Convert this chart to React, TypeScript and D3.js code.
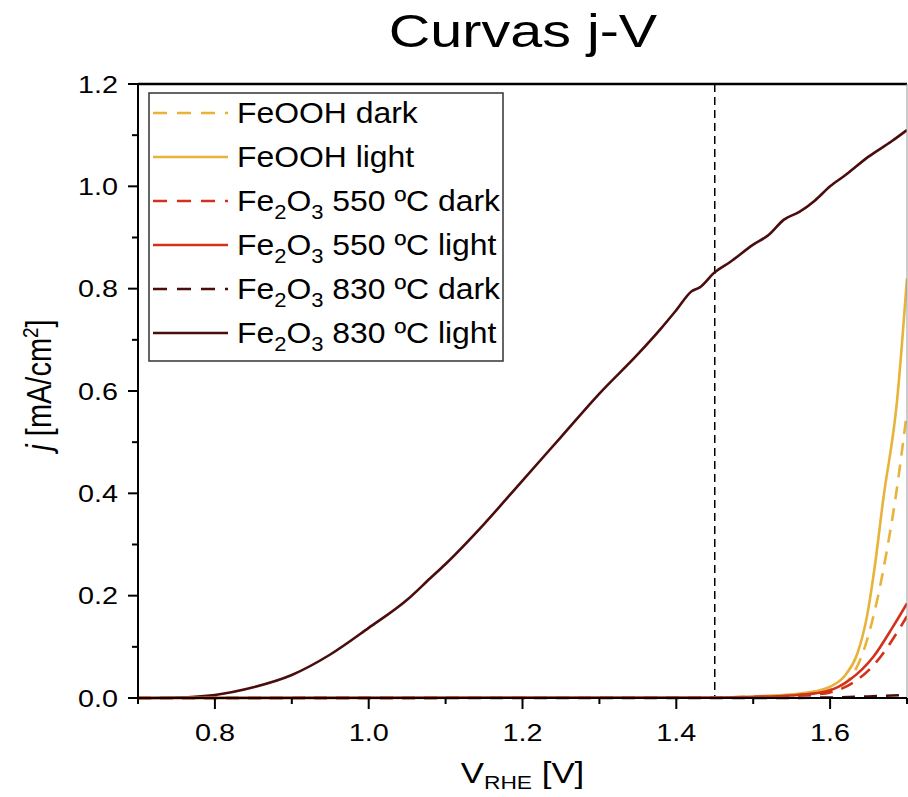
import React from "react";
import * as d3 from "d3";

// ---------- data ----------
const v830Light = [0.70, 0.75, 0.80, 0.85, 0.90, 0.95, 1.00, 1.05, 1.08, 1.10, 1.15, 1.20, 1.25, 1.30, 1.35, 1.38, 1.40, 1.42, 1.43, 1.45, 1.47, 1.50, 1.52, 1.54, 1.56, 1.58, 1.60, 1.62, 1.65, 1.68, 1.70];
const j830Light = [0.000, 0.001, 0.006, 0.021, 0.045, 0.085, 0.137, 0.192, 0.234, 0.262, 0.340, 0.425, 0.510, 0.595, 0.672, 0.722, 0.758, 0.795, 0.802, 0.832, 0.852, 0.886, 0.905, 0.935, 0.950, 0.972, 1.000, 1.022, 1.058, 1.088, 1.110];

const v830Dark = [0.70, 1.50, 1.60, 1.65, 1.70];
const j830Dark = [0.000, 0.000, 0.001, 0.003, 0.006];

const vFeoohLight = [0.70, 1.45, 1.50, 1.55, 1.58, 1.60, 1.62, 1.635, 1.648, 1.658, 1.669, 1.687, 1.70];
const jFeoohLight = [0.000, 0.001, 0.003, 0.007, 0.013, 0.022, 0.045, 0.085, 0.160, 0.256, 0.387, 0.580, 0.820];

const vFeoohDark = [0.70, 1.45, 1.50, 1.55, 1.58, 1.60, 1.622, 1.648, 1.661, 1.674, 1.684, 1.70];
const jFeoohDark = [0.000, 0.001, 0.002, 0.005, 0.010, 0.016, 0.032, 0.113, 0.190, 0.290, 0.380, 0.560];

const v550Light = [0.70, 1.45, 1.50, 1.55, 1.58, 1.596, 1.626, 1.656, 1.682, 1.70];
const j550Light = [0.000, 0.001, 0.002, 0.005, 0.009, 0.013, 0.036, 0.080, 0.140, 0.185];

const v550Dark = [0.70, 1.45, 1.50, 1.55, 1.58, 1.60, 1.63, 1.66, 1.69, 1.70];
const j550Dark = [0.000, 0.001, 0.002, 0.004, 0.007, 0.011, 0.030, 0.070, 0.135, 0.160];

const xTicks = [0.8, 1.0, 1.2, 1.4, 1.6];
const xMinor = [0.7, 0.9, 1.1, 1.3, 1.5, 1.7];
const yTicks = [0.0, 0.2, 0.4, 0.6, 0.8, 1.0, 1.2];
const yMinor = [0.1, 0.3, 0.5, 0.7, 0.9, 1.1];
const refVoltage = 1.45;

const C_FEOOH = "#E8B33A";
const C_550 = "#D2321C";
const C_830 = "#4A0C0C";

type Series = { name: string; sub?: boolean; rest: string; v: number[]; j: number[]; color: string; dashed: boolean };
const series: Series[] = [
  { name: "FeOOH dark", rest: "", v: vFeoohDark, j: jFeoohDark, color: C_FEOOH, dashed: true },
  { name: "FeOOH light", rest: "", v: vFeoohLight, j: jFeoohLight, color: C_FEOOH, dashed: false },
  { name: "Fe2O3", sub: true, rest: " 550 ºC dark", v: v550Dark, j: j550Dark, color: C_550, dashed: true },
  { name: "Fe2O3", sub: true, rest: " 550 ºC light", v: v550Light, j: j550Light, color: C_550, dashed: false },
  { name: "Fe2O3", sub: true, rest: " 830 ºC dark", v: v830Dark, j: j830Dark, color: C_830, dashed: true },
  { name: "Fe2O3", sub: true, rest: " 830 ºC light", v: v830Light, j: j830Light, color: C_830, dashed: false },
];
const drawOrder = [5, 4, 0, 1, 2, 3];

const SX = 1.2; // horizontal stretch of the reference's lettering

export default function App() {
  const W = 908, H = 797;
  const left = 138, right = 907, top = 84, bottom = 698;
  const x = d3.scaleLinear().domain([0.7, 1.7]).range([left, right]);
  const y = d3.scaleLinear().domain([0, 1.2]).range([bottom, top]);
  const font = "Liberation Sans, Arial, sans-serif";

  const line = (s: Series) =>
    d3.line<number>().x((_, i) => x(s.v[i])).y((d) => y(d)).curve(d3.curveMonotoneX)(s.j) || "";

  const legX = 149, legY = 93, legW = 354, legH = 268, rowH = 44;

  return (
    <svg width={W} height={H} style={{ position: "absolute", left: 0, top: 0, background: "#fff" }} fontFamily={font}>
      <defs>
        <clipPath id="plotclip">
          <rect x={left} y={top} width={right - left} height={bottom - top + 2} />
        </clipPath>
      </defs>
      <rect x={0} y={0} width={W} height={H} fill="#fff" />
      <text transform={`translate(523,47) scale(1.25,1)`} fontSize={46} textAnchor="middle" fill="#000">Curvas j-V</text>

      {/* reference dashed vertical */}
      <line x1={x(refVoltage)} x2={x(refVoltage)} y1={top} y2={bottom} stroke="#000" strokeWidth={1.5} strokeDasharray="8,5" />

      <g clipPath="url(#plotclip)">
        {drawOrder.map((k) => {
          const s = series[k];
          return (
            <path key={k} d={line(s)} fill="none" stroke={s.color} strokeWidth={2.6}
              strokeDasharray={s.dashed ? "13,9" : undefined} strokeLinejoin="round" />
          );
        })}
      </g>

      {/* frame */}
      <line x1={left} x2={right} y1={top} y2={top} stroke="#000" strokeWidth={2.5} />
      <line x1={right} x2={right} y1={top} y2={bottom} stroke="#999" strokeWidth={1} />
      <line x1={left} x2={left} y1={top - 1} y2={bottom + 1} stroke="#000" strokeWidth={2} />
      <line x1={left - 1} x2={right} y1={bottom} y2={bottom} stroke="#000" strokeWidth={2} />

      {/* x ticks */}
      {xTicks.map((t) => (
        <g key={"xt" + t}>
          <line x1={x(t)} x2={x(t)} y1={bottom} y2={bottom + 11} stroke="#000" strokeWidth={2} />
          <text transform={`translate(${x(t)},${bottom + 43}) scale(${SX},1)`} fontSize={24} textAnchor="middle" fill="#000">{d3.format(".1f")(t)}</text>
        </g>
      ))}
      {xMinor.map((t) => (
        <line key={"xm" + t} x1={x(t)} x2={x(t)} y1={bottom} y2={bottom + 6} stroke="#000" strokeWidth={2} />
      ))}
      {/* y ticks */}
      {yTicks.map((t) => (
        <g key={"yt" + t}>
          <line x1={left - 10} x2={left} y1={y(t)} y2={y(t)} stroke="#000" strokeWidth={2} />
          <text transform={`translate(${left - 20},${y(t) + 8.5}) scale(1.25,1)`} fontSize={23} textAnchor="end" fill="#000">{d3.format(".1f")(t)}</text>
        </g>
      ))}
      {yMinor.map((t) => (
        <line key={"ym" + t} x1={left - 6} x2={left} y1={y(t)} y2={y(t)} stroke="#000" strokeWidth={2} />
      ))}

      {/* axis titles */}
      <text transform={`translate(${(left + right) / 2},783) scale(${SX},1)`} fontSize={29} textAnchor="middle" fill="#000">
        V<tspan fontSize={19} dy={6}>RHE</tspan><tspan dy={-6}> [V]</tspan>
      </text>
      <text transform={`translate(51, 385) scale(${SX},1) rotate(-90)`} fontSize={29} textAnchor="middle" fill="#000">
        <tspan fontStyle="italic">j</tspan> [mA/cm<tspan fontSize={19} dy={-11}>2</tspan><tspan dy={11}>]</tspan>
      </text>

      {/* legend */}
      <rect x={legX} y={legY} width={legW} height={legH} fill="#fff" stroke="#333" strokeWidth={1.5} />
      {series.map((s, i) => {
        const cy = legY + 20 + i * rowH;
        return (
          <g key={"lg" + i}>
            <line x1={legX + 4} x2={legX + 79} y1={cy} y2={cy} stroke={s.color} strokeWidth={2.6}
              strokeDasharray={s.dashed ? "14,10" : undefined} />
            <text transform={`translate(${legX + 88},${cy + 10}) scale(1.1,1)`} fontSize={29} fill="#000">
              {s.sub ? (
                <>
                  Fe<tspan fontSize={20} dy={8}>2</tspan><tspan dy={-8}>O</tspan><tspan fontSize={20} dy={8}>3</tspan><tspan dy={-8}>{s.rest}</tspan>
                </>
              ) : s.name}
            </text>
          </g>
        );
      })}
    </svg>
  );
}
